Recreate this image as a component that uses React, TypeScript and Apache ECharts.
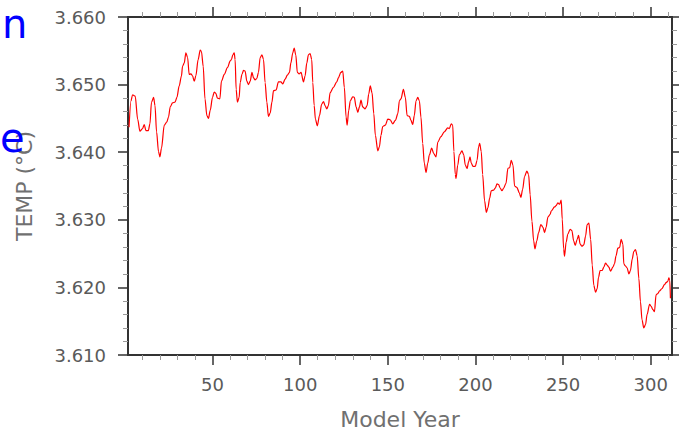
import { useEffect, useRef } from "react";
import * as echarts from "echarts";

const years = [
  2.4, 3.5, 4.4, 5.9, 7.3, 8.6, 10.1, 11.1, 12.0, 13.4, 14.3, 15.2, 16.4, 17.2, 18.1, 19.2, 20.0, 20.9, 22.5, 24.0,
  24.9, 25.9, 27.2, 28.6, 29.7, 31.0, 32.3, 32.9, 33.9, 34.8, 35.8, 36.7, 37.7, 38.6, 39.6, 40.5, 41.8, 43.0, 43.7, 44.7,
  45.7, 46.8, 47.7, 48.7, 50.0, 51.0, 51.9, 52.8, 54.2, 55.1, 56.7, 58.5, 60.1, 60.8, 61.6, 62.4, 62.9, 63.5, 64.2, 65.2,
  65.8, 66.8, 67.7, 68.6, 69.6, 70.5, 71.5, 72.5, 73.4, 74.3, 75.3, 76.2, 77.2, 78.2, 79.1, 80.0, 81.0, 81.9, 82.9, 83.9,
  84.8, 86.3, 87.6, 89.0, 90.1, 91.4, 92.7, 93.9, 94.7, 95.8, 96.6, 97.5, 98.4, 99.4, 100.5, 101.9, 102.8, 103.8, 104.7, 105.7,
  106.6, 107.2, 108.0, 108.7, 109.8, 111.0, 112.3, 113.3, 114.2, 115.2, 116.1, 117.1, 119.0, 120.9, 121.8, 123.2, 124.3, 125.2, 126.2, 126.8,
  127.7, 128.6, 130.0, 130.9, 131.9, 132.9, 133.8, 134.7, 135.7, 137.0, 138.2, 139.1, 140.0, 141.0, 142.0, 142.9, 144.3, 145.2, 146.1, 147.1,
  148.6, 150.0, 151.3, 152.8, 154.3, 155.7, 156.6, 157.5, 158.9, 160.0, 161.0, 162.3, 163.2, 164.2, 165.1, 166.1, 167.1, 168.0, 168.9, 169.9,
  170.8, 171.8, 172.8, 173.7, 175.0, 176.2, 177.5, 178.5, 180.3, 182.2, 184.2, 185.1, 186.2, 187.0, 187.7, 188.5, 188.9, 189.9, 190.8, 192.3,
  193.3, 194.2, 195.2, 196.1, 196.9, 197.6, 198.6, 199.9, 200.9, 201.8, 202.4, 203.3, 204.1, 205.2, 206.2, 207.1, 208.1, 209.0, 210.4, 211.3,
  212.3, 213.2, 214.1, 215.1, 216.1, 217.4, 218.5, 219.5, 220.4, 221.4, 222.3, 223.6, 225.0, 225.9, 226.9, 228.0, 229.3, 230.3, 231.2, 232.2,
  233.2, 233.9, 235.0, 236.0, 237.3, 238.5, 239.4, 240.3, 241.3, 242.6, 243.2, 245.1, 246.0, 247.0, 248.0, 248.9, 249.5, 250.3, 250.8, 251.7,
  252.7, 254.0, 255.0, 256.0, 256.9, 258.0, 258.8, 259.7, 260.7, 261.8, 262.8, 263.7, 264.7, 265.7, 266.6, 267.5, 268.5, 269.4, 270.2, 271.1,
  272.3, 273.2, 274.2, 275.1, 276.1, 277.0, 278.4, 279.3, 280.2, 281.2, 282.2, 283.1, 284.1, 284.6, 285.4, 286.5, 287.5, 288.4, 289.4, 290.3,
  291.3, 292.2, 293.2, 294.1, 295.0, 296.0, 297.0, 297.9, 299.3, 300.2, 301.2, 302.1, 303.0, 304.0, 305.0, 306.3, 307.8, 308.7, 309.7, 310.3,
  310.8, 311.2,
];

const temps = [
  3.6437, 3.6476, 3.6485, 3.6483, 3.6449, 3.6431, 3.6435, 3.6441, 3.6432, 3.6432, 3.6442, 3.6474, 3.6481, 3.6469, 3.643, 3.6401, 3.6393, 3.6406, 3.644, 3.6445,
  3.6452, 3.6467, 3.6473, 3.6474, 3.6481, 3.6498, 3.6513, 3.6527, 3.6532, 3.6547, 3.654, 3.6515, 3.6516, 3.6513, 3.6505, 3.6513, 3.6537, 3.6551, 3.6549, 3.6527,
  3.6479, 3.6454, 3.645, 3.6462, 3.6481, 3.6489, 3.6487, 3.648, 3.6479, 3.6505, 3.6515, 3.6525, 3.6535, 3.6537, 3.6544, 3.6547, 3.6537, 3.6493, 3.6474, 3.6481,
  3.6503, 3.6515, 3.6521, 3.652, 3.6505, 3.65, 3.6505, 3.6518, 3.651, 3.6507, 3.6509, 3.6518, 3.654, 3.6544, 3.6537, 3.6503, 3.6474, 3.6453, 3.6458, 3.6474,
  3.6491, 3.6492, 3.6504, 3.6504, 3.6501, 3.6508, 3.6514, 3.6518, 3.6532, 3.6547, 3.6554, 3.6544, 3.6518, 3.6516, 3.6518, 3.6504, 3.6513, 3.6532, 3.6544, 3.6546,
  3.6537, 3.6503, 3.6469, 3.6449, 3.6439, 3.6454, 3.6471, 3.6475, 3.6469, 3.6464, 3.6469, 3.6488, 3.6496, 3.6504, 3.651, 3.6518, 3.652, 3.6496, 3.6452, 3.644,
  3.6462, 3.6476, 3.6482, 3.6481, 3.6467, 3.6459, 3.6467, 3.6477, 3.6467, 3.6464, 3.6469, 3.6486, 3.6498, 3.6488, 3.6457, 3.6425, 3.6402, 3.6408, 3.6425, 3.6438,
  3.644, 3.6449, 3.6448, 3.6442, 3.6447, 3.6457, 3.6476, 3.6479, 3.6493, 3.6481, 3.6454, 3.6453, 3.6447, 3.6441, 3.6454, 3.6476, 3.6481, 3.6476, 3.6452, 3.6413,
  3.6384, 3.637, 3.6384, 3.6396, 3.6406, 3.6398, 3.6393, 3.6415, 3.6423, 3.643, 3.6436, 3.6435, 3.6442, 3.644, 3.6401, 3.6367, 3.6361, 3.6381, 3.6396, 3.6402,
  3.6396, 3.6381, 3.6376, 3.6386, 3.6393, 3.6384, 3.6379, 3.6379, 3.6388, 3.6408, 3.6413, 3.6401, 3.6367, 3.6328, 3.6311, 3.6318, 3.6332, 3.6343, 3.6344, 3.6347,
  3.6353, 3.6352, 3.6347, 3.6343, 3.6347, 3.6354, 3.6376, 3.6377, 3.6388, 3.6381, 3.635, 3.6348, 3.634, 3.6333, 3.6345, 3.6364, 3.6372, 3.6367, 3.6337, 3.6298,
  3.6269, 3.6257, 3.6269, 3.6281, 3.6293, 3.6289, 3.6281, 3.6289, 3.6304, 3.6308, 3.6313, 3.6319, 3.6321, 3.6325, 3.6323, 3.6329, 3.6301, 3.6257, 3.6246, 3.6267,
  3.6279, 3.6286, 3.6284, 3.6269, 3.6262, 3.6271, 3.6277, 3.6264, 3.6261, 3.6263, 3.6276, 3.6293, 3.6295, 3.6271, 3.6233, 3.6203, 3.6193, 3.6198, 3.6215, 3.6225,
  3.6225, 3.623, 3.6236, 3.6233, 3.623, 3.6224, 3.623, 3.6235, 3.6247, 3.6258, 3.6259, 3.6271, 3.6264, 3.6235, 3.6232, 3.6229, 3.622, 3.6225, 3.6242, 3.6253,
  3.6256, 3.6247, 3.6213, 3.6179, 3.6152, 3.614, 3.6145, 3.616, 3.6175, 3.6172, 3.6167, 3.6164, 3.6189, 3.6191, 3.6195, 3.6198, 3.6204, 3.6207, 3.6209, 3.6214,
  3.6211, 3.6184,
];

const xMajorTicks = [50, 100, 150, 200, 250, 300];
const xMinorTicks = [10, 20, 30, 40, 60, 70, 80, 90, 110, 120, 130, 140, 160, 170, 180, 190, 210, 220, 230, 240, 260, 270, 280, 290, 310];
const yMin = 3.61;
const yMax = 3.66;
const yStep = 0.01;
const xMin = 1.8;
const xMax = 312.1;
const xTitle = "Model Year";
const yTitle = "TEMP (°C)";

const FONT = "DejaVu Sans";
const AXIS_COLOR = "#333";
const MINOR_COLOR = "#999";
const LABEL_COLOR = "#5a5a5a";
const NAME_COLOR = "#707070";

export default function App() {
  const ref = useRef<HTMLDivElement>(null);

  useEffect(() => {
    const chart = echarts.init(ref.current!, undefined, { renderer: "svg" });
    const baseX: any = {
      type: "value",
      min: xMin,
      max: xMax,
      gridIndex: 0,
      splitLine: { show: false },
    };
    const majorX = (position: string, withLabels: boolean): any => ({
      ...baseX,
      position,
      axisLine: { show: true, onZero: false, lineStyle: { color: AXIS_COLOR, width: 2 } },
      axisTick: { show: true, customValues: xMajorTicks, length: 10, lineStyle: { color: AXIS_COLOR, width: 1.5 } },
      axisLabel: withLabels
        ? { show: true, customValues: xMajorTicks, fontSize: 18, fontFamily: FONT, color: LABEL_COLOR, margin: 20 }
        : { show: false },
    });
    const minorX = (position: string): any => ({
      ...baseX,
      position,
      axisLine: { show: false, onZero: false },
      axisTick: { show: true, customValues: xMinorTicks, length: 5, lineStyle: { color: MINOR_COLOR, width: 1 } },
      axisLabel: { show: false },
    });
    const yAx = (position: string, withLabels: boolean): any => ({
      type: "value",
      position,
      min: yMin,
      max: yMax,
      interval: yStep,
      splitLine: { show: false },
      axisLine: { show: true, onZero: false, lineStyle: { color: AXIS_COLOR, width: 2 } },
      axisTick: { show: true, length: 10, lineStyle: { color: AXIS_COLOR, width: 1.5 } },
      minorTick: { show: true, splitNumber: 5, length: 5, lineStyle: { color: MINOR_COLOR, width: 1 } },
      axisLabel: withLabels
        ? {
            show: true,
            fontSize: 18,
            fontFamily: FONT,
            color: LABEL_COLOR,
            margin: 22,
            formatter: (v: number) => v.toFixed(3),
          }
        : { show: false },
    });

    const xMain = majorX("bottom", true);
    xMain.name = xTitle;
    xMain.nameLocation = "middle";
    xMain.nameGap = 53;
    xMain.nameTextStyle = { fontSize: 22, fontFamily: FONT, color: NAME_COLOR };

    const yMain = yAx("left", true);
    yMain.name = yTitle;
    yMain.nameLocation = "middle";
    yMain.nameGap = 93;
    yMain.nameTextStyle = { fontSize: 22, fontFamily: FONT, color: NAME_COLOR };

    chart.setOption({
      animation: false,
      backgroundColor: "#fff",
      grid: { left: 128, right: 7, top: 17, bottom: 76, containLabel: false },
      xAxis: [xMain, minorX("bottom"), majorX("top", false), minorX("top")],
      yAxis: [yMain, yAx("right", false)],
      series: [
        {
          type: "line",
          xAxisIndex: 0,
          yAxisIndex: 0,
          data: years.map((y, i) => [y, temps[i]]),
          symbol: "none",
          showSymbol: false,
          smooth: 0.3,
          smoothMonotone: "x",
          lineStyle: { color: "#ff0000", width: 1.2 },
          silent: true,
        },
      ],
      graphic: [
        {
          type: "text",
          x: 2,
          y: 24,
          z: 100,
          style: { text: "n", fontSize: 40, fontFamily: FONT, fill: "#0000ff", verticalAlign: "middle" },
        },
        {
          type: "text",
          x: 0,
          y: 138,
          z: 100,
          style: { text: "e", fontSize: 40, fontFamily: FONT, fill: "#0000ff", verticalAlign: "middle" },
        },
      ],
    });
    return () => chart.dispose();
  }, []);

  return <div ref={ref} style={{ position: "fixed", left: 0, top: 0, width: 679, height: 435 }} />;
}
